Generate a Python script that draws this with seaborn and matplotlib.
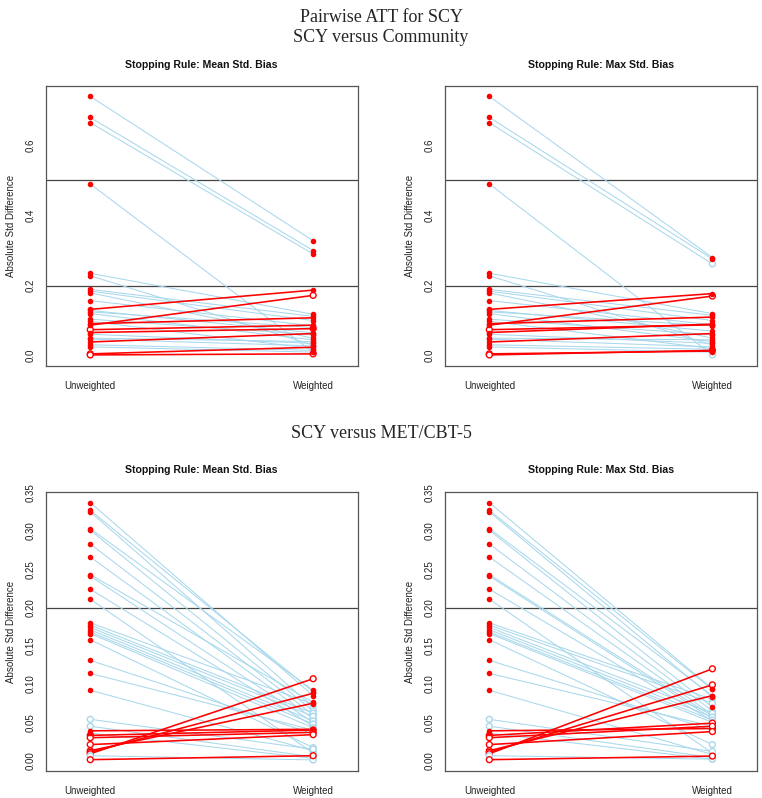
import numpy as np
import pandas as pd
import matplotlib
matplotlib.use('Agg')
import matplotlib.pyplot as plt
import seaborn as sns

# ---- SCY versus Community (top row) ----
com_unw = [0.740, 0.680, 0.665, 0.490, 0.235, 0.228, 0.189, 0.184, 0.179, 0.157,
           0.132, 0.129, 0.125, 0.120, 0.104, 0.098, 0.091, 0.087, 0.074, 0.066,
           0.061, 0.050, 0.047, 0.039, 0.031, 0.025, 0.005, 0.002]
com_unw_sig = [1, 1, 1, 1, 1, 1, 1, 1, 1, 1,
               1, 1, 1, 1, 1, 1, 1, 1, 0, 1,
               1, 1, 1, 1, 1, 1, 0, 0]
com_mean = [0.328, 0.300, 0.290, 0.010, 0.118, 0.030, 0.112, 0.100, 0.050, 0.085,
            0.187, 0.065, 0.080, 0.045, 0.060, 0.020, 0.108, 0.172, 0.087, 0.077,
            0.035, 0.040, 0.028, 0.063, 0.015, 0.010, 0.024, 0.005]
com_mean_sig = [1, 1, 1, 1, 1, 1, 1, 1, 1, 1,
                1, 1, 1, 1, 1, 1, 1, 0, 1, 0,
                1, 1, 1, 1, 1, 1, 1, 0]
com_max = [0.280, 0.276, 0.262, 0.002, 0.120, 0.030, 0.115, 0.100, 0.050, 0.088,
           0.177, 0.070, 0.085, 0.040, 0.060, 0.020, 0.110, 0.170, 0.088, 0.090,
           0.035, 0.045, 0.025, 0.063, 0.018, 0.010, 0.013, 0.015]
com_max_sig = [1, 1, 0, 0, 1, 1, 1, 1, 1, 1,
               1, 1, 1, 1, 1, 1, 1, 0, 1, 1,
               1, 1, 1, 1, 1, 1, 1, 0]

# ---- SCY versus MET/CBT-5 (bottom row) ----
met_unw = [0.337, 0.327, 0.325, 0.303, 0.301, 0.283, 0.266, 0.243, 0.241, 0.224,
           0.211, 0.180, 0.177, 0.174, 0.171, 0.168, 0.166, 0.158, 0.131, 0.114,
           0.092, 0.054, 0.045, 0.039, 0.036, 0.033, 0.030, 0.021, 0.013, 0.011,
           0.009, 0.0065, 0.0013]
met_unw_sig = [1] * 21 + [0, 0, 1, 1, 0, 0, 0, 0, 0, 0, 0, 0]
met_mean = [0.085, 0.090, 0.070, 0.092, 0.065, 0.060, 0.055, 0.076, 0.050, 0.045,
            0.010, 0.074, 0.062, 0.058, 0.052, 0.048, 0.043, 0.017, 0.035, 0.040,
            0.013, 0.015, 0.005, 0.041, 0.003, 0.040, 0.037, 0.034, 0.075, 0.088,
            0.107, 0.001, 0.0065]
met_mean_sig = [1, 1, 0, 1, 0, 0, 0, 1, 0, 0,
                0, 1, 0, 0, 0, 0, 0, 0, 0, 0,
                0, 0, 0, 1, 0, 0, 0, 0, 1, 1,
                0, 0, 0]
met_max = [0.094, 0.093, 0.083, 0.085, 0.070, 0.065, 0.060, 0.058, 0.055, 0.052,
           0.010, 0.080, 0.075, 0.062, 0.057, 0.053, 0.050, 0.021, 0.040, 0.045,
           0.008, 0.012, 0.004, 0.042, 0.002, 0.049, 0.045, 0.038, 0.085, 0.099,
           0.120, 0.002, 0.006]
met_max_sig = [1, 1, 1, 1, 1, 0, 0, 0, 0, 0,
               0, 0, 0, 0, 0, 0, 0, 0, 0, 0,
               0, 0, 0, 0, 0, 0, 0, 0, 1, 0,
               0, 0, 0]

stages = ['Unweighted', 'Weighted']
panel_titles = ['Stopping Rule: Mean Std. Bias', 'Stopping Rule: Max Std. Bias']

RED = '#FF0000'
BLUE = '#A8D8EC'


def es_panel(ax, unw, unw_sig, wt, wt_sig, hlines, yticks, fmt):
    n = len(unw)
    rows = []
    for i in range(n):
        d = 'up' if wt[i] > unw[i] else 'down'
        rows.append(dict(cov=i, x=1, value=unw[i], dir=d, sig=unw_sig[i]))
        rows.append(dict(cov=i, x=2, value=wt[i], dir=d, sig=wt_sig[i]))
    df = pd.DataFrame(rows)

    for h in hlines:
        ax.axhline(h, color='#444444', lw=0.9, zorder=1)

    sns.lineplot(data=df, x='x', y='value', units='cov', estimator=None,
                 hue='dir', hue_order=['down', 'up'],
                 palette={'down': BLUE, 'up': RED},
                 size='dir', sizes={'down': 0.75, 'up': 1.15},
                 legend=False, ax=ax, zorder=2)

    filled = df[df['sig'] == 1]
    sns.scatterplot(data=filled, x='x', y='value', color=RED, s=16,
                    linewidth=0, legend=False, ax=ax, zorder=4)
    hollow = df[df['sig'] == 0]
    ecol = [RED if d == 'up' else BLUE for d in hollow['dir']]
    ax.scatter(hollow['x'], hollow['value'], s=18, facecolors='white',
               edgecolors=ecol, linewidths=1.0, zorder=3)

    top = max(max(unw), max(wt))
    pad = 0.04 * top
    ax.set_ylim(-pad, top + pad)
    ax.set_xlim(0.8, 2.2)
    ax.set_xticks([1, 2])
    ax.set_xticklabels(stages)
    ax.set_yticks(yticks)
    ax.set_yticklabels([fmt.format(t) for t in yticks], rotation=90, va='center')
    ax.set_xlabel('')
    ax.set_ylabel('Absolute Std Difference', fontsize=7, color='#222222', labelpad=7)
    ax.tick_params(axis='both', labelsize=7, colors='#555555', labelcolor='#222222',
                   length=4, width=0.8, top=False, right=False)
    ax.tick_params(axis='x', pad=7)
    for sp in ax.spines.values():
        sp.set_color('#555555')
        sp.set_linewidth(0.9)


sns.set_theme(style='white')
plt.rcParams['font.family'] = ['Liberation Sans', 'DejaVu Sans']

fig = plt.figure(figsize=(7.62, 7.98), dpi=100)
W, H = 762, 798

boxes = {
    'tl': (45.7, 86, 357.7, 366),
    'tr': (444.7, 86, 757, 366),
    'bl': (45.7, 492.3, 357.7, 771),
    'br': (444.7, 492.3, 757, 771),
}
axes = {}
for k, (x0, y0, x1, y1) in boxes.items():
    axes[k] = fig.add_axes([x0 / W, 1 - y1 / H, (x1 - x0) / W, (y1 - y0) / H])

top_ticks = [0.0, 0.2, 0.4, 0.6]
bot_ticks = [0.00, 0.05, 0.10, 0.15, 0.20, 0.25, 0.30, 0.35]

es_panel(axes['tl'], com_unw, com_unw_sig, com_mean, com_mean_sig, [0.2, 0.5], top_ticks, '{:.1f}')
es_panel(axes['tr'], com_unw, com_unw_sig, com_max, com_max_sig, [0.2, 0.5], top_ticks, '{:.1f}')
es_panel(axes['bl'], met_unw, met_unw_sig, met_mean, met_mean_sig, [0.2, 0.5], bot_ticks, '{:.2f}')
es_panel(axes['br'], met_unw, met_unw_sig, met_max, met_max_sig, [0.2, 0.5], bot_ticks, '{:.2f}')

# panel titles
for k, t, yy in [('tl', panel_titles[0], 65), ('tr', panel_titles[1], 65),
                 ('bl', panel_titles[0], 470), ('br', panel_titles[1], 470)]:
    x0, _, x1, _ = boxes[k]
    fig.text((x0 + x1) / 2 / W, 1 - yy / H, t, ha='center', va='center',
             fontsize=7.6, fontweight='bold', color='#111111')

serif = ['Liberation Serif', 'DejaVu Serif']
fig.text(0.5, 1 - 18 / H, 'Pairwise ATT for SCY', ha='center', va='center',
         fontsize=13, family=serif)
fig.text(0.5, 1 - 38 / H, 'SCY versus Community', ha='center', va='center',
         fontsize=13, family=serif)
fig.text(0.5, 1 - 433 / H, 'SCY versus MET/CBT-5', ha='center', va='center',
         fontsize=13, family=serif)

fig.savefig('out.png', dpi=100, facecolor='white')
